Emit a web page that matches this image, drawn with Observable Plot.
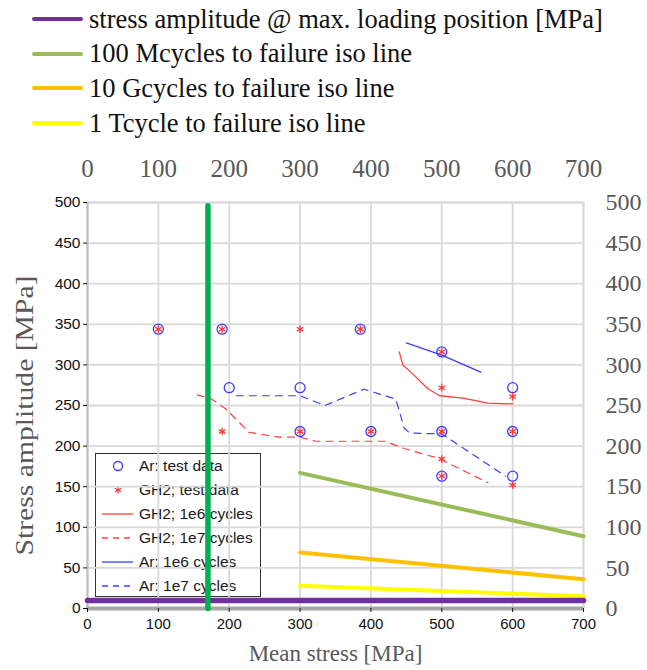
<!DOCTYPE html>
<html><head><meta charset="utf-8">
<script src="https://cdn.jsdelivr.net/npm/d3@7"></script>
<script src="https://cdn.jsdelivr.net/npm/@observablehq/plot@0.6"></script>
<style>
body{margin:0;background:#fff;}
#wrap{width:647px;height:670px;position:relative;overflow:hidden;background:#fff;}
#toplegend{position:absolute;left:0;top:0;width:647px;height:140px;font-family:"Liberation Serif","Times New Roman",serif;font-size:26.5px;color:#111;}
.trow{position:absolute;left:0;height:35px;display:flex;align-items:center;white-space:nowrap;}
.trow .sw{width:51px;height:4px;margin-left:32px;margin-right:6px;border-radius:2px;}
#chart{position:absolute;left:0;top:140px;width:647px;height:530px;}
#innerlegend{position:absolute;left:95px;top:313px;width:166px;height:144px;border:1px solid #333;box-sizing:border-box;z-index:0;font-family:"Liberation Sans",Arial,sans-serif;font-size:15.5px;color:#1a1a1a;}
.irow{position:absolute;left:0;height:24px;width:166px;display:flex;align-items:center;white-space:nowrap;}
.irow svg{margin-left:6px;margin-right:6px;}
#chart > svg{position:relative;z-index:1;}
</style>
</head><body>
<div id="wrap">
  <div id="toplegend"></div>
  <div id="chart"><div id="innerlegend"></div></div>
</div>
<script>
// ---- data ----
const xTicks = [0, 100, 200, 300, 400, 500, 600, 700];
const yTicks = [0, 50, 100, 150, 200, 250, 300, 350, 400, 450, 500];

const arTest = [[100,344],[190,344],[385,344],[200,272],[300,272],[500,316],[600,272],
                [300,218],[400,218],[500,218],[600,218],[500,163],[600,163]];
const gh2Test = [[100,344],[190,344],[300,344],[385,344],[190,218],[300,218],[400,218],
                 [500,218],[600,218],[500,316],[500,272],[600,261],[500,184],[600,152],[500,163]];

const gh2_1e6 = [[440,316],[445,300],[460,288],[480,271],[497,262],[530,259],[565,253],[600,252]];
const gh2_1e7 = [[155,263],[175,258],[195,246],[228,217],[270,211],[300,211],[322,206],[420,206],[447,197],[495,185],[565,155]];
const ar_1e6 = [[450,327],[500,312],[555,291]];
const ar_1e7 = [[210,262],[300,262],[335,250],[390,270],[435,258],[447,222],[455,216],[500,215],[590,163]];

const iso100M = [[300,167],[700,89]];
const iso10G = [[300,69],[700,36]];
const iso1T = [[300,28],[700,15]];
const maxLoadStress = [[0,10],[700,10]];
const verticalLine = [[170,0],[170,496]];

const topLegendLabels = ["stress amplitude @ max. loading position [MPa]","100 Mcycles to failure iso line","10 Gcycles to failure iso line","1 Tcycle to failure iso line"];
const topLegendColors = ["#7030a0","#9bbb59","#ffc000","#ffff00"];
const innerLegendLabels = ["Ar: test data","GH2; test data","GH2; 1e6 cycles","GH2; 1e7 cycles","Ar: 1e6 cycles","Ar: 1e7 cycles"];
const innerLegendKinds = ["circle","asterisk","solid","dashed","solid","dashed"];
const innerLegendColors = ["#3c3cff","#ff3030","#ff4040","#ff4040","#3c3cff","#3c3cff"];

const blue = "#3c3cff", red = "#ff3a3a";
const serif = "Liberation Serif, Times New Roman, serif";
const sans = "Liberation Sans, Arial, sans-serif";
const gx = d => d[0], gy = d => d[1];

// ---- top legend ----
const tl = document.getElementById("toplegend");
topLegendLabels.forEach((t, i) => {
  const r = document.createElement("div");
  r.className = "trow"; r.style.top = (1.5 + i * 34.7) + "px";
  r.innerHTML = `<span class="sw" style="background:${topLegendColors[i]}"></span><span>${t}</span>`;
  tl.appendChild(r);
});

// ---- inner legend ----
const il = document.getElementById("innerlegend");
innerLegendLabels.forEach((t, i) => {
  const r = document.createElement("div");
  r.className = "irow"; r.style.top = (0 + i * 24) + "px";
  const c = innerLegendColors[i], k = innerLegendKinds[i];
  let sym = "";
  if (k === "circle") sym = `<circle cx="16" cy="6" r="4.5" fill="none" stroke="${c}" stroke-width="1.3"/>`;
  else if (k === "asterisk") sym = `<g stroke="${c}" stroke-width="1.2"><line x1="16" y1="2.5" x2="16" y2="9.5"/><line x1="13" y1="4.2" x2="19" y2="7.8"/><line x1="13" y1="7.8" x2="19" y2="4.2"/></g>`;
  else sym = `<line x1="0" y1="6" x2="31" y2="6" stroke="${c}" stroke-width="1.3" ${k === "dashed" ? 'stroke-dasharray="6,5"' : ""}/>`;
  r.innerHTML = `<svg width="31" height="12">${sym}</svg><span>${t}</span>`;
  il.appendChild(r);
});

// ---- chart ----
const chart = Plot.plot({
  width: 647, height: 530,
  marginLeft: 87, marginRight: 64, marginTop: 62, marginBottom: 62,
  style: {background: "transparent", overflow: "visible"},
  x: {domain: [0, 700]},
  y: {domain: [0, 500]},
  marks: [
    Plot.gridX(xTicks, {stroke: "#d9d9d9", strokeOpacity: 1, strokeWidth: 1.8}),
    Plot.gridY(yTicks, {stroke: "#d9d9d9", strokeOpacity: 1, strokeWidth: 1.8}),
    Plot.frame({stroke: "#d9d9d9", strokeWidth: 1.8}),
    Plot.ruleX([0], {stroke: "#bfbfbf", strokeWidth: 2}),
    Plot.ruleY([0], {stroke: "#a6a6a6", strokeWidth: 4}),
    Plot.line(gh2_1e7, {x: gx, y: gy, stroke: "#ff4040", strokeWidth: 1.2, strokeDasharray: "7,6"}),
    Plot.line(ar_1e7, {x: gx, y: gy, stroke: blue, strokeWidth: 1.2, strokeDasharray: "7,6"}),
    Plot.line(gh2_1e6, {x: gx, y: gy, stroke: "#ff4040", strokeWidth: 1.3}),
    Plot.line(ar_1e6, {x: gx, y: gy, stroke: blue, strokeWidth: 1.3}),
    Plot.dot(arTest, {x: gx, y: gy, r: 5, stroke: blue, strokeWidth: 1.3, fill: "none"}),
    Plot.dot(gh2Test, {x: gx, y: gy, r: 3.6, symbol: "asterisk", stroke: red, strokeWidth: 1.3}),
    Plot.line(iso100M, {x: gx, y: gy, stroke: "#9bbb59", strokeWidth: 4}),
    Plot.line(iso10G, {x: gx, y: gy, stroke: "#ffc000", strokeWidth: 4}),
    Plot.line(iso1T, {x: gx, y: gy, stroke: "#ffff00", strokeWidth: 4}),
    Plot.line(maxLoadStress, {x: gx, y: gy, stroke: "#7030a0", strokeWidth: 5.5}),
    Plot.line(verticalLine, {x: gx, y: gy, stroke: "#00b050", strokeWidth: 5.5}),
    Plot.axisX(xTicks, {anchor: "bottom", tickSize: 4, tickPadding: 6, fontFamily: sans, fontSize: 15, color: "#111", label: null}),
    Plot.axisY(yTicks, {anchor: "left", tickSize: 4, tickPadding: 3, fontFamily: sans, fontSize: 15.5, color: "#111", label: null}),
    Plot.axisX(xTicks, {anchor: "top", tickSize: 0, tickPadding: 26, fontFamily: serif, fontSize: 25, color: "#595959", label: null}),
    Plot.axisY(yTicks, {anchor: "right", tickSize: 0, tickPadding: 22, fontFamily: serif, fontSize: 24, color: "#595959", label: null}),
    Plot.text(["Stress amplitude [MPa]"], {frameAnchor: "left", textAnchor: "middle", dx: -63, dy: 10, rotate: -90, fontFamily: serif, fontSize: 25, fill: "#595959"}),
    Plot.text(["Mean stress [MPa]"], {frameAnchor: "bottom", textAnchor: "middle", dy: 52, fontFamily: serif, fontSize: 23, fill: "#595959"})
  ]
});
d3.select(chart).selectAll("text")
  .filter(function() { return this.textContent === "Stress amplitude [MPa]"; })
  .attr("textLength", 280).attr("lengthAdjust", "spacingAndGlyphs");
document.getElementById("chart").appendChild(chart);
</script>
</body></html>
